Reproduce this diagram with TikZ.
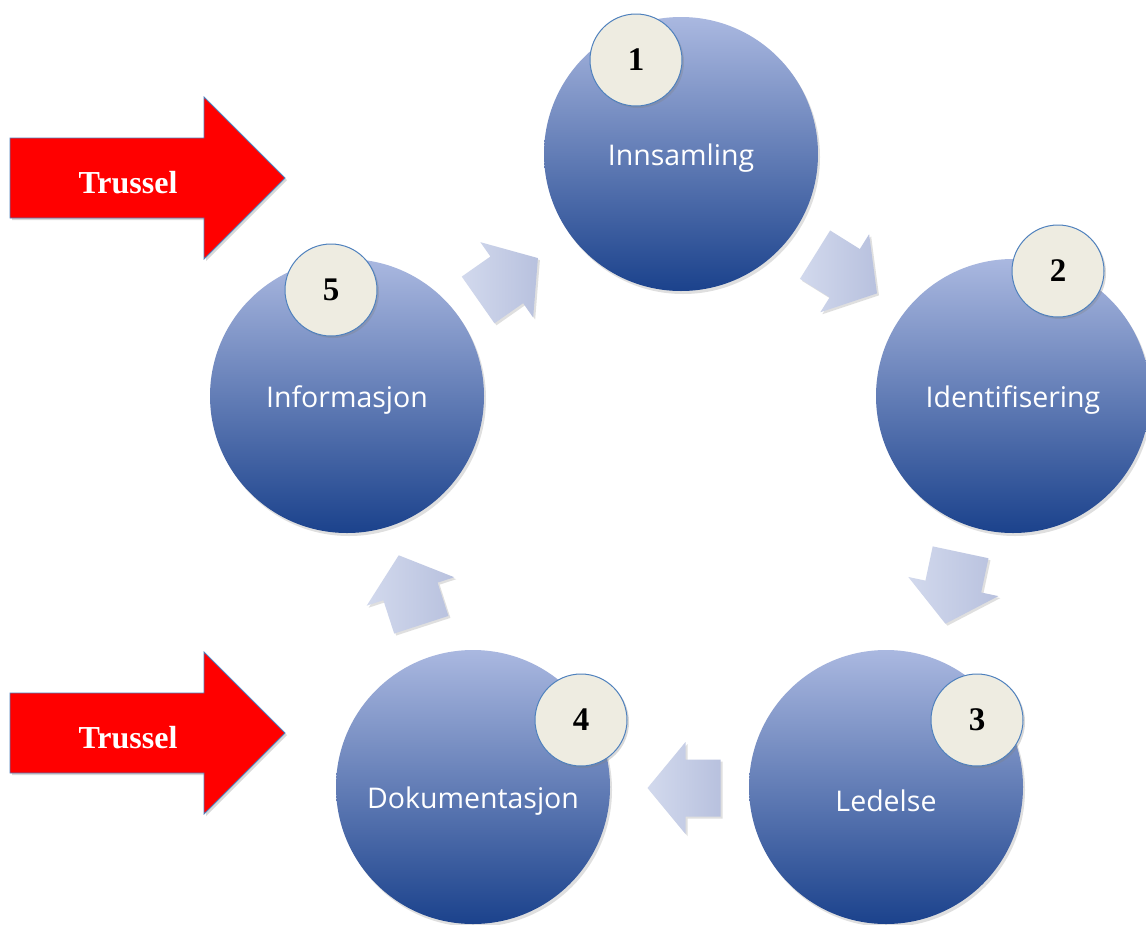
\documentclass[tikz,border=0pt]{standalone}
\usepackage{fontspec}
\setmainfont{Liberation Serif}
\newfontfamily\discfont{Open Sans}[Ligatures=NoCommon]
\usetikzlibrary{shadows}
\definecolor{disctop}{RGB}{170,184,224}
\definecolor{discbot}{RGB}{27,66,140}
\definecolor{badgefill}{RGB}{238,236,225}
\definecolor{badgeline}{RGB}{79,129,189}
\definecolor{arrlight}{RGB}{210,217,237}
\definecolor{arrdark}{RGB}{184,193,222}
\definecolor{threatred}{RGB}{255,0,0}
\tikzset{
  disc/.style={circle, minimum size=274pt, inner sep=0pt, top color=disctop, bottom color=discbot,
    drop shadow={opacity=0.25, shadow xshift=2pt, shadow yshift=-3pt}},
  lbl/.style={text=white, font=\discfont\fontsize{28.5}{32}\selectfont, inner sep=0pt},
  badge/.style={circle, minimum size=92pt, inner sep=0pt, fill=badgefill, draw=badgeline, line width=1pt,
    font=\bfseries\fontsize{33}{36}\selectfont,
    drop shadow={opacity=0.3, shadow xshift=2pt, shadow yshift=-2pt}},
  threat/.style={fill=threatred, draw=badgeline, line width=0.8pt,
    drop shadow={opacity=0.3, shadow xshift=2pt, shadow yshift=-2pt}},
  threatlbl/.style={text=white, font=\bfseries\fontsize{32}{35}\selectfont, inner sep=0pt},
  flowarrow/.pic={
    \shade[left color=arrlight, right color=arrdark,
      drop shadow={opacity=0.25, shadow xshift=2pt, shadow yshift=-2pt}]
      (-36.5,-28.5) -- (-1.5,-28.5) -- (-1.5,-46) -- (36.5,0) -- (-1.5,46) -- (-1.5,28.5) -- (-36.5,28.5) -- cycle;
  }
}
\begin{document}
\begin{tikzpicture}[x=1pt,y=-1pt]
\useasboundingbox (0,0) rectangle (1146,924);
\fill[white] (0,0) rectangle (1146,924);

% red threat arrows
\draw[threat] (10,138) -- (204,138) -- (204,97) -- (285,178) -- (204,259) -- (204,218) -- (10,218) -- cycle;
\node[threatlbl] (t1) at (128,183) {Trussel};
\draw[threat] (10,693) -- (204,693) -- (204,652) -- (285,733) -- (204,814) -- (204,773) -- (10,773) -- cycle;
\node[threatlbl] (t2) at (128,738) {Trussel};

% circles
\node[disc] (c1) at (681,154) {};
\node[disc] (c2) at (1013,396) {};
\node[disc] (c3) at (886,787) {};
\node[disc] (c4) at (473,787) {};
\node[disc] (c5) at (347,396) {};

\node[lbl] (l1) at ([yshift=-4pt]c1.center) {Innsamling};
\node[lbl] (l2) at ([yshift=-4pt]c2.center) {Identifisering};
\node[lbl] (l3) at ([yshift=-14pt]c3.center) {Ledelse};
\node[lbl] (l4) at ([yshift=-14pt]c4.center) {Dokumentasjon};
\node[lbl] (l5) at ([yshift=-4pt]c5.center) {Informasjon};

% flow arrows
\pic[rotate=35] at (508,279) {flowarrow};
\pic[rotate=-32] at (846,274) {flowarrow};
\pic[rotate=-102] at (953,588) {flowarrow};
\pic[rotate=180] at (684,788) {flowarrow};
\pic[rotate=108] at (410,590) {flowarrow};

% badges
\node[badge] (b1) at (636,60) {1};
\node[badge] (b2) at (1058,271) {2};
\node[badge] (b3) at (977,720) {3};
\node[badge] (b4) at (581,720) {4};
\node[badge] (b5) at (331,290) {5};
\end{tikzpicture}
\end{document}
